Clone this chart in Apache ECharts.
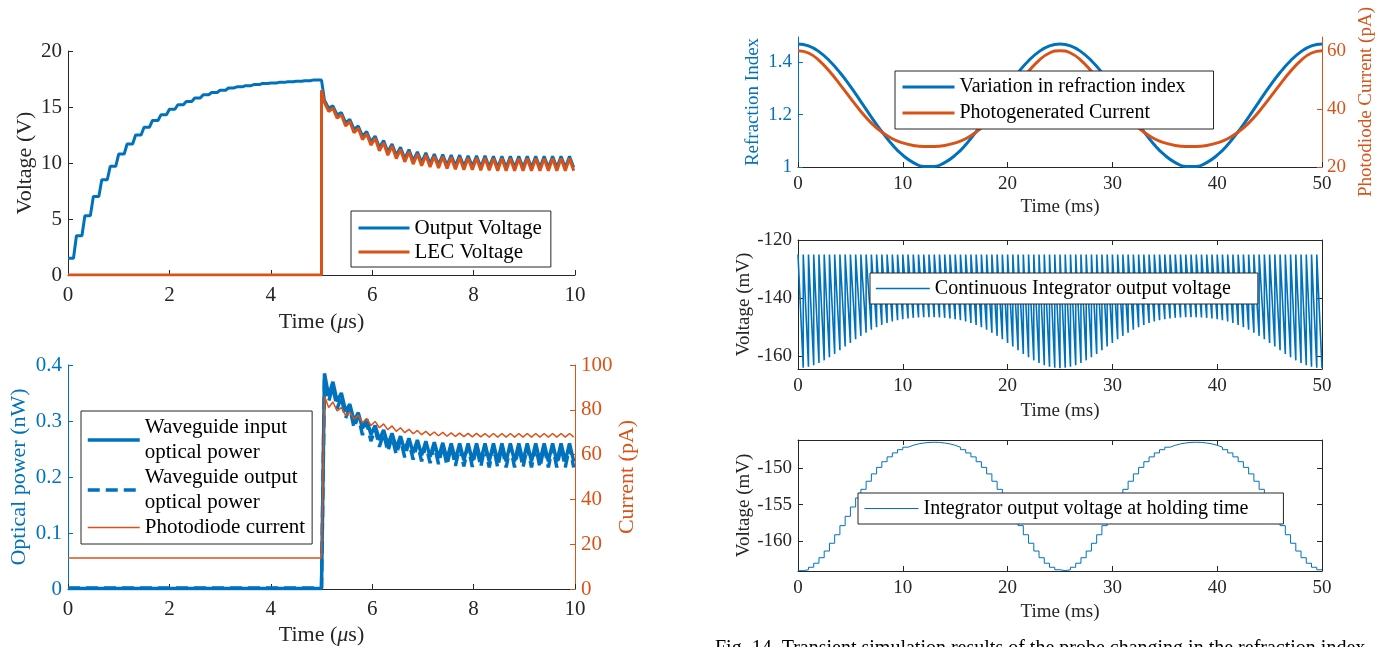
<!DOCTYPE html>
<html><head><meta charset="utf-8">
<script src="https://cdn.jsdelivr.net/npm/echarts@6/dist/echarts.min.js"></script>
<style>html,body{margin:0;padding:0;background:#fff}#c{width:1385px;height:647px}</style>
</head><body><div id="c"></div>
<script>
// ================= DATA =================
// Panel A (top-left): time in µs, 30 sample/hold periods in 0–5 µs and 30 ringing periods in 5–10 µs
const aStepsPerHalf = 30;
const outputChargeLevels = [1.5, 3.5, 5.3, 7.0, 8.5, 9.7, 10.8, 11.7, 12.5, 13.2, 13.8, 14.3, 14.8, 15.2, 15.5,
  15.8, 16.1, 16.3, 16.5, 16.7, 16.8, 16.9, 17.0, 17.1, 17.15, 17.2, 17.25, 17.3, 17.35, 17.4];
const outputRingHigh = [15.6, 15.1, 14.5, 13.9, 13.3, 12.8, 12.4, 12.0, 11.7, 11.4, 11.2, 11.0, 10.9, 10.8, 10.75,
  10.7, 10.7, 10.65, 10.65, 10.65, 10.6, 10.6, 10.6, 10.6, 10.6, 10.6, 10.6, 10.6, 10.6, 10.6];
const outputRingLow = [14.9, 14.3, 13.6, 13.0, 12.4, 11.9, 11.4, 11.0, 10.7, 10.4, 10.2, 10.05, 9.95, 9.85, 9.8,
  9.75, 9.7, 9.7, 9.65, 9.65, 9.6, 9.6, 9.6, 9.6, 9.6, 9.6, 9.6, 9.6, 9.6, 9.6];
const lecBefore = 0;
const lecJumpPeak = 16.5;
const lecRingHigh = [15.4, 14.9, 14.3, 13.7, 13.1, 12.6, 12.2, 11.8, 11.5, 11.2, 11.0, 10.8, 10.7, 10.6, 10.55,
  10.5, 10.5, 10.45, 10.45, 10.45, 10.4, 10.4, 10.4, 10.4, 10.4, 10.4, 10.4, 10.4, 10.4, 10.4];
const lecRingLow = [14.6, 14.0, 13.3, 12.7, 12.1, 11.6, 11.1, 10.7, 10.4, 10.1, 9.9, 9.75, 9.65, 9.55, 9.5,
  9.45, 9.4, 9.4, 9.35, 9.35, 9.3, 9.3, 9.3, 9.3, 9.3, 9.3, 9.3, 9.3, 9.3, 9.3];

// Panel B (bottom-left)
const inputPowerBefore = 0.001;
const outputPowerBefore = 0.002;
const currentBefore = 13.8;
const inputRingHigh = [0.385, 0.37, 0.35, 0.33, 0.315, 0.303, 0.292, 0.284, 0.278, 0.273, 0.269, 0.266, 0.264, 0.262, 0.261,
  0.26, 0.26, 0.26, 0.26, 0.26, 0.26, 0.26, 0.26, 0.26, 0.26, 0.26, 0.26, 0.26, 0.26, 0.26];
const inputRingLow = [0.345, 0.335, 0.318, 0.3, 0.287, 0.276, 0.266, 0.258, 0.252, 0.247, 0.243, 0.239, 0.236, 0.234, 0.232,
  0.231, 0.23, 0.229, 0.229, 0.228, 0.228, 0.228, 0.228, 0.228, 0.228, 0.228, 0.228, 0.228, 0.228, 0.228];
const outputRingHighB = [0.375, 0.362, 0.343, 0.324, 0.309, 0.297, 0.286, 0.278, 0.272, 0.267, 0.263, 0.26, 0.258, 0.257, 0.256,
  0.255, 0.255, 0.255, 0.255, 0.255, 0.255, 0.255, 0.255, 0.255, 0.255, 0.255, 0.255, 0.255, 0.255, 0.255];
const outputRingLowB = [0.335, 0.322, 0.305, 0.288, 0.275, 0.264, 0.254, 0.246, 0.24, 0.235, 0.231, 0.228, 0.225, 0.223, 0.221,
  0.22, 0.219, 0.218, 0.218, 0.217, 0.217, 0.217, 0.217, 0.217, 0.217, 0.217, 0.217, 0.217, 0.217, 0.217];
const currentRingHigh = [86, 83.5, 81, 79, 77.5, 76, 74.8, 73.7, 72.8, 72, 71.3, 70.8, 70.4, 70.1, 69.9,
  69.7, 69.6, 69.5, 69.5, 69.4, 69.4, 69.4, 69.4, 69.4, 69.4, 69.4, 69.4, 69.4, 69.4, 69.4];
const currentRingLow = [81, 79.5, 77.5, 75.8, 74.3, 73, 72, 71.1, 70.4, 69.8, 69.3, 68.9, 68.6, 68.4, 68.2,
  68.1, 68.0, 67.9, 67.9, 67.8, 67.8, 67.8, 67.8, 67.8, 67.8, 67.8, 67.8, 67.8, 67.8, 67.8];

// Panel C (top-right): sampled every 1 ms, 0..50 ms
const refractionIndex = [1.470, 1.463, 1.441, 1.406, 1.361, 1.308, 1.250, 1.191, 1.135, 1.085, 1.045, 1.017, 1.002,
  1.002, 1.017, 1.045, 1.085, 1.135, 1.191, 1.250, 1.308, 1.361, 1.406, 1.441, 1.463, 1.470,
  1.463, 1.441, 1.406, 1.361, 1.308, 1.250, 1.191, 1.135, 1.085, 1.045, 1.017, 1.002,
  1.002, 1.017, 1.045, 1.085, 1.135, 1.191, 1.250, 1.308, 1.361, 1.406, 1.441, 1.463, 1.470];
const photoCurrent = [60.0, 59.2, 56.7, 52.9, 48.4, 43.7, 39.1, 35.1, 32.0, 29.7, 28.3, 27.4, 27.05,
  27.05, 27.4, 28.3, 29.7, 32.0, 35.1, 39.1, 43.7, 48.4, 52.9, 56.7, 59.2, 60.0,
  59.2, 56.7, 52.9, 48.4, 43.7, 39.1, 35.1, 32.0, 29.7, 28.3, 27.4, 27.05,
  27.05, 27.4, 28.3, 29.7, 32.0, 35.1, 39.1, 43.7, 48.4, 52.9, 56.7, 59.2, 60.0];

// Panels D/E (integrator): 100 integration cycles of 0.5 ms
const cyclePeriodMs = 0.5;
const integratorReset = -125;
const holdInitial = -164.0;
const cycleMinimum = [
  -163.88, -163.54, -162.99, -162.24, -161.33, -160.27, -159.11, -157.87, -156.60, -155.33,
  -154.10, -152.92, -151.82, -150.82, -149.93, -149.16, -148.50, -147.96, -147.52, -147.18,
  -146.92, -146.73, -146.61, -146.53, -146.51, -146.53, -146.61, -146.73, -146.92, -147.18,
  -147.52, -147.96, -148.50, -149.16, -149.93, -150.82, -151.82, -152.92, -154.10, -155.33,
  -156.60, -157.87, -159.11, -160.27, -161.33, -162.24, -162.99, -163.54, -163.88, -164.00,
  -163.88, -163.54, -162.99, -162.24, -161.33, -160.27, -159.11, -157.87, -156.60, -155.33,
  -154.10, -152.92, -151.82, -150.82, -149.93, -149.16, -148.50, -147.96, -147.52, -147.18,
  -146.92, -146.73, -146.61, -146.53, -146.51, -146.53, -146.61, -146.73, -146.92, -147.18,
  -147.52, -147.96, -148.50, -149.16, -149.93, -150.82, -151.82, -152.92, -154.10, -155.33,
  -156.60, -157.87, -159.11, -160.27, -161.33, -162.24, -162.99, -163.54, -163.88, -164.00];

// tick labels
const ticksUs = [0, 2, 4, 6, 8, 10];
const ticksMs = [0, 10, 20, 30, 40, 50];
const ticksVoltA = [0, 5, 10, 15, 20];
const ticksPower = [0, 0.1, 0.2, 0.3, 0.4];
const ticksCurrentB = [0, 20, 40, 60, 80, 100];
const ticksRefraction = [1, 1.2, 1.4];
const ticksCurrentC = [20, 40, 60];
const ticksContinuous = [-160, -140, -120];
const ticksHold = [-160, -155, -150];

// ================= BUILD =================
const BLUE = '#0072BD', ORANGE = '#D95319', AX = '#262626', FONT = 'Liberation Serif';
const Tus = 5 / aStepsPerHalf;

function ringPoints(start, period, highs, lows) {
  const pts = [];
  highs.forEach((h, k) => {
    pts.push([start + (k + 0.35) * period, h]);
    pts.push([start + (k + 0.85) * period, lows[k]]);
  });
  return pts;
}
const outBlue = [];
outputChargeLevels.forEach((v, k) => { outBlue.push([k * Tus, v], [(k + 0.65) * Tus, v]); });
outBlue.push([5, outputChargeLevels[outputChargeLevels.length - 1]]);
outBlue.push(...ringPoints(5, Tus, outputRingHigh, outputRingLow));
const lecPts = [[0, lecBefore], [5, lecBefore], [5, lecJumpPeak], ...ringPoints(5, Tus, lecRingHigh, lecRingLow)];

const inPts = [[0, inputPowerBefore], [5, inputPowerBefore], ...ringPoints(5, Tus, inputRingHigh, inputRingLow)];
const outPts = [[0, outputPowerBefore], [5, outputPowerBefore], ...ringPoints(5, Tus, outputRingHighB, outputRingLowB)];
const curPts = [[0, currentBefore], [5, currentBefore], ...ringPoints(5, Tus, currentRingHigh, currentRingLow)];

const nPts = refractionIndex.map((v, i) => [i, v]);
const iPts = photoCurrent.map((v, i) => [i, v]);

const contPts = [];
cycleMinimum.forEach((m, k) => { contPts.push([k * cyclePeriodMs, integratorReset], [(k + 1) * cyclePeriodMs, m]); });
const holdPts = [];
cycleMinimum.forEach((m, k) => {
  const v = k === 0 ? holdInitial : cycleMinimum[k - 1];
  holdPts.push([k * cyclePeriodMs, v], [(k + 1) * cyclePeriodMs, v]);
});

function ax(o) {
  const color = o.color || AX;
  const fs = o.fs || 21;
  const a = {
    type: 'value', gridIndex: o.grid, min: o.min, max: o.max, position: o.position,
    axisLine: { show: true, onZero: false, lineStyle: { color: color, width: 1 } },
    axisTick: { show: true, inside: true, length: 5, lineStyle: { color: color } },
    axisLabel: { show: o.labels !== false, color: color, fontFamily: FONT, fontSize: fs, margin: o.margin || 7 },
    splitLine: { show: false },
  };
  if (o.interval != null) a.interval = o.interval;
  if (o.custom) { a.axisLabel.customValues = o.custom; a.axisTick.customValues = o.custom; }
  if (o.name) {
    a.name = o.name; a.nameLocation = 'middle'; a.nameGap = o.nameGap;
    if (o.rot) a.nameRotate = 90;
    a.nameTextStyle = { color: color, fontFamily: FONT, fontSize: o.nfs || 22,
      rich: { i: { fontStyle: 'italic', fontFamily: FONT, fontSize: o.nfs || 22, color: color } } };
  }
  return a;
}

function legendText(fs, lh) { return { fontFamily: FONT, fontSize: fs, color: '#000', lineHeight: lh }; }
function lg(o) {
  return Object.assign({
    orient: 'vertical', selectedMode: false, borderColor: AX, borderWidth: 1, backgroundColor: '#fff',
    itemHeight: 14, icon: 'inherit', lineStyle: { width: 'inherit' }, itemStyle: { opacity: 0 }, borderRadius: 0,
  }, o);
}
const bNames = {
  'Waveguide input optical power': 'Waveguide input\noptical power',
  'Waveguide output optical power': 'Waveguide output\noptical power',
  'Photodiode current': 'Photodiode current'
};

const option = {
  animation: false,
  backgroundColor: '#fff',
  grid: [
    { left: 68, top: 51, width: 507, height: 224 },
    { left: 68, top: 365, width: 507, height: 224 },
    { left: 798, top: 37, width: 524, height: 130 },
    { left: 798, top: 240, width: 524, height: 129 },
    { left: 798, top: 440, width: 524, height: 131 },
  ],
  xAxis: [
    ax({ grid: 0, min: 0, max: 10, interval: 2, margin: 10, name: 'Time ({i|μ}s)', nameGap: 36 }),
    ax({ grid: 1, min: 0, max: 10, interval: 2, margin: 10, name: 'Time ({i|μ}s)', nameGap: 35 }),
    ax({ grid: 2, min: 0, max: 50, interval: 10, fs: 19, margin: 8, name: 'Time (ms)', nameGap: 31, nfs: 19 }),
    ax({ grid: 3, min: 0, max: 50, interval: 10, fs: 19, margin: 8, name: 'Time (ms)', nameGap: 33, nfs: 19 }),
    ax({ grid: 4, min: 0, max: 50, interval: 10, fs: 19, margin: 8, name: 'Time (ms)', nameGap: 32, nfs: 19 }),
    ax({ grid: 3, min: 0, max: 50, interval: 10, labels: false, position: 'top' }),
    ax({ grid: 4, min: 0, max: 50, interval: 10, labels: false, position: 'top' }),
  ],
  yAxis: [
    ax({ grid: 0, min: 0, max: 20, interval: 5, margin: 6, name: 'Voltage (V)', nameGap: 32, rot: true }),
    ax({ grid: 1, min: 0, max: 0.4, interval: 0.1, margin: 6, color: BLUE, name: 'Optical power (nW)', nameGap: 38, rot: true }),
    ax({ grid: 1, min: 0, max: 100, interval: 20, margin: 6, color: ORANGE, position: 'right', name: 'Current (pA)', nameGap: 34, rot: true }),
    ax({ grid: 2, min: 1, max: 1.497, custom: ticksRefraction, fs: 19, margin: 6, color: BLUE, name: 'Refraction Index', nameGap: 35, nfs: 19, rot: true }),
    ax({ grid: 2, min: 20, max: 64.7, custom: ticksCurrentC, fs: 19, margin: 5, color: ORANGE, position: 'right', name: 'Photodiode Current (pA)', nameGap: 35, nfs: 19, rot: true }),
    ax({ grid: 3, min: -164.3, max: -120, custom: ticksContinuous, fs: 19, margin: 6, name: 'Voltage (mV)', nameGap: 39, nfs: 19, rot: true }),
    ax({ grid: 3, min: -164.3, max: -120, custom: ticksContinuous, labels: false, position: 'right' }),
    ax({ grid: 4, min: -164.05, max: -146.2, custom: ticksHold, fs: 19, margin: 6, name: 'Voltage (mV)', nameGap: 39, nfs: 19, rot: true }),
    ax({ grid: 4, min: -164.05, max: -146.2, custom: ticksHold, labels: false, position: 'right' }),
  ],
  legend: [
    lg({ left: 351, top: 211, padding: [6, 9, 4, 6], itemGap: 2, itemWidth: 51,
      textStyle: legendText(21, 22), data: ['Output Voltage', 'LEC Voltage'] }),
    lg({ left: 81, top: 411, padding: [4, 7, 4, 5], itemGap: 0, itemWidth: 52,
      textStyle: legendText(21, 25),
      formatter: n => bNames[n],
      data: ['Waveguide input optical power', 'Waveguide output optical power', 'Photodiode current'] }),
    lg({ left: 895, top: 71, padding: [3, 28, 3, 6], itemGap: 0, itemWidth: 52,
      textStyle: legendText(20, 26), data: ['Variation in refraction index', 'Photogenerated Current'] }),
    lg({ left: 870, top: 273, padding: [3, 27, 3, 5], itemGap: 0, itemWidth: 54,
      textStyle: legendText(20, 25), data: ['Continuous Integrator output voltage'] }),
    lg({ left: 858, top: 493, padding: [3, 35, 3, 6], itemGap: 0, itemWidth: 54,
      textStyle: legendText(20, 25), data: ['Integrator output voltage at holding time'] }),
  ],
  series: [
    { name: 'Output Voltage', type: 'line', xAxisIndex: 0, yAxisIndex: 0, data: outBlue, symbol: 'none', lineStyle: { color: BLUE, width: 3 }, itemStyle: { color: BLUE } },
    { name: 'LEC Voltage', type: 'line', xAxisIndex: 0, yAxisIndex: 0, data: lecPts, symbol: 'none', lineStyle: { color: ORANGE, width: 3 }, itemStyle: { color: ORANGE } },
    { name: 'Waveguide input optical power', type: 'line', xAxisIndex: 1, yAxisIndex: 1, data: inPts, symbol: 'none', lineStyle: { color: BLUE, width: 3.5 }, itemStyle: { color: BLUE } },
    { name: 'Waveguide output optical power', type: 'line', xAxisIndex: 1, yAxisIndex: 1, data: outPts, symbol: 'none', lineStyle: { color: BLUE, width: 3.5, type: [12, 6] }, itemStyle: { color: BLUE } },
    { name: 'Photodiode current', type: 'line', xAxisIndex: 1, yAxisIndex: 2, data: curPts, symbol: 'none', lineStyle: { color: ORANGE, width: 1.5 }, itemStyle: { color: ORANGE } },
    { name: 'Variation in refraction index', type: 'line', xAxisIndex: 2, yAxisIndex: 3, data: nPts, smooth: true, symbol: 'none', lineStyle: { color: BLUE, width: 3 }, itemStyle: { color: BLUE } },
    { name: 'Photogenerated Current', type: 'line', xAxisIndex: 2, yAxisIndex: 4, data: iPts, smooth: true, symbol: 'none', lineStyle: { color: ORANGE, width: 3 }, itemStyle: { color: ORANGE } },
    { name: 'Continuous Integrator output voltage', type: 'line', xAxisIndex: 3, yAxisIndex: 5, data: contPts, symbol: 'none', lineStyle: { color: BLUE, width: 1.6 }, itemStyle: { color: BLUE } },
    { name: 'Integrator output voltage at holding time', type: 'line', xAxisIndex: 4, yAxisIndex: 7, data: holdPts, symbol: 'none', lineStyle: { color: BLUE, width: 1 }, itemStyle: { color: BLUE } },
  ],
  graphic: [
    { type: 'text', left: 715, top: 639, style: { text: 'Fig. 14. Transient simulation results of the probe changing in the refraction index', font: '20px "Liberation Serif"', fill: '#000' } }
  ]
};
const chart = echarts.init(document.getElementById('c'), null, { renderer: 'canvas' });
chart.setOption(option);
</script></body></html>
